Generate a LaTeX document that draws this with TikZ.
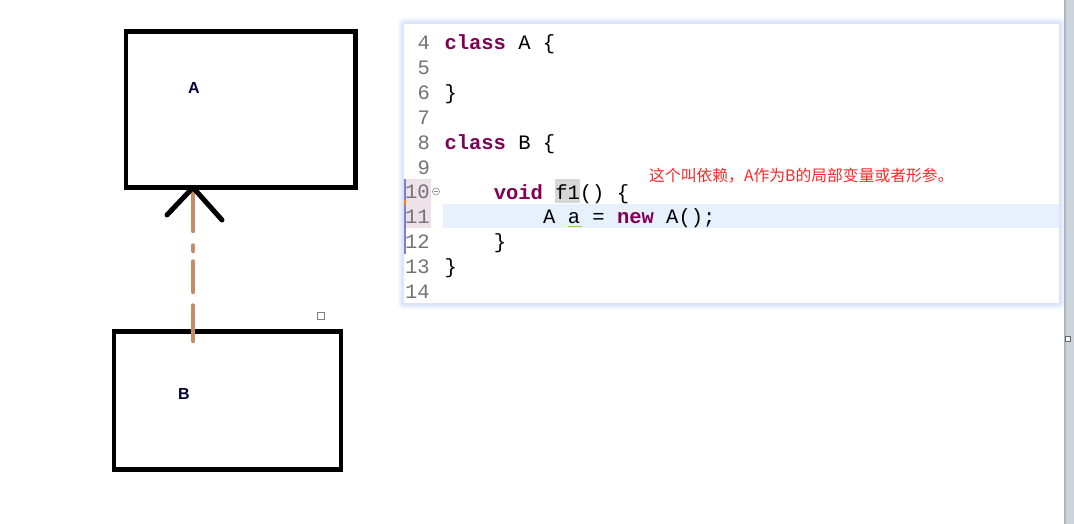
\documentclass[tikz,border=0pt]{standalone}
\usepackage{fontspec}
\setsansfont{Liberation Sans}
\setmonofont{Liberation Mono}
\newfontfamily\cjk{Noto Sans CJK SC}
\definecolor{kw}{RGB}{127,0,85}
\definecolor{depcol}{RGB}{200,140,100}
\definecolor{glowcol}{RGB}{150,180,245}
\definecolor{hlcol}{RGB}{230,241,252}
\definecolor{guttercol}{RGB}{236,226,232}
\definecolor{barcol}{RGB}{206,212,222}
\definecolor{notecol}{RGB}{250,40,40}
\begin{document}
\begin{tikzpicture}[
    x=1pt, y=-1pt,
    box/.style={draw, line width=4.5pt, inner sep=0pt, outer sep=0pt},
    lbl/.style={inner sep=0pt, font=\sffamily\bfseries\fontsize{16}{16}\selectfont, text=black!80!blue},
    code/.style={anchor=base west, inner sep=0pt, font=\ttfamily\fontsize{20.5}{24}\selectfont},
    num/.style={anchor=base east, inner sep=0pt, font=\ttfamily\fontsize{20.5}{24}\selectfont, text=black!55},
    dep/.style={draw=depcol, line width=4.5pt, line cap=round,
        dash pattern=on 35.5pt off 13.5pt on 30.5pt off 10.5pt on 5.5pt off 14.5pt on 37.5pt off 20pt},
    head/.style={draw, line width=5pt, line cap=round, line join=round}
]
\useasboundingbox (0,0) rectangle (1074,524);
\fill[white] (0,0) rectangle (1074,524);
% class boxes
\node[box, minimum width=229.5pt, minimum height=155.8pt] (A) at (240.75,109.6) {};
\node[box, minimum width=227pt, minimum height=138pt] (B) at (227.5,400.5) {};
\node[lbl] (Alabel) at (194,88) {A};
\node[lbl] (Blabel) at (184,394) {B};
\draw[gray, line width=1pt] (317.5,312) rectangle (324.5,319);
% dependency
\coordinate (tail) at (193,341);
\coordinate (wl) at (167,215);
\coordinate (wr) at (222,220);
\draw[dep] (tail) -- (A.south -| tail);
\draw[head] (wl) -- (A.south -| tail) -- (wr);
% code panel
\foreach \g in {6,4.5,3,1.5}
    \fill[glowcol, opacity=0.1, rounded corners=\g pt] (404-\g,24-\g) rectangle (1059+\g,303+\g);
\fill[white] (404,24) rectangle (1059,303);
\fill[guttercol] (404,179) rectangle (431,228);
\fill[hlcol] (443,204) rectangle (1059,228);
\fill[black!16] (555,179) rectangle (580,203);
\fill[blue!45!gray!70] (404,179) rectangle (406,254);
\fill[orange] (404,200) rectangle (406,205);
\draw[black!45, line width=0.6pt] (436,191.5) circle (3.5pt) (434,191.5) -- (438,191.5);
\draw[yellow!60!green, line width=0.8pt] (568,226.5) -- (582,226.5);
\foreach \n in {4,...,14}
    \node[num] (n\n) at (430,{50+(\n-4)*24.83}) {\n};
\node[code] (l4) at (444.3,50) {\textcolor{kw}{\bfseries class} A \{};
\node[code] (l6) at (444.3,99.7) {\}};
\node[code] (l8) at (444.3,149.3) {\textcolor{kw}{\bfseries class} B \{};
\node[code] (l10) at (493.6,199) {\textcolor{kw}{\bfseries void} f1() \{};
\node[code] (l11) at (543,223.8) {A a = \textcolor{kw}{\bfseries new} A();};
\node[code] (l12) at (493.6,248.6) {\}};
\node[code] (l13) at (444.3,273.4) {\}};
\node[anchor=base west, inner sep=0pt, text=notecol, font=\cjk\fontsize{15.8}{16}\selectfont] (note) at (649,182)
    {这个叫依赖，A作为B的局部变量或者形参。};
% window edge
\fill[barcol] (1064,0) rectangle (1074,524);
\fill[barcol!85!black] (1064,0) rectangle (1065.5,524);
\draw[black!60, fill=white, line width=0.8pt] (1065,336) rectangle (1070,341);
\end{tikzpicture}
\end{document}
